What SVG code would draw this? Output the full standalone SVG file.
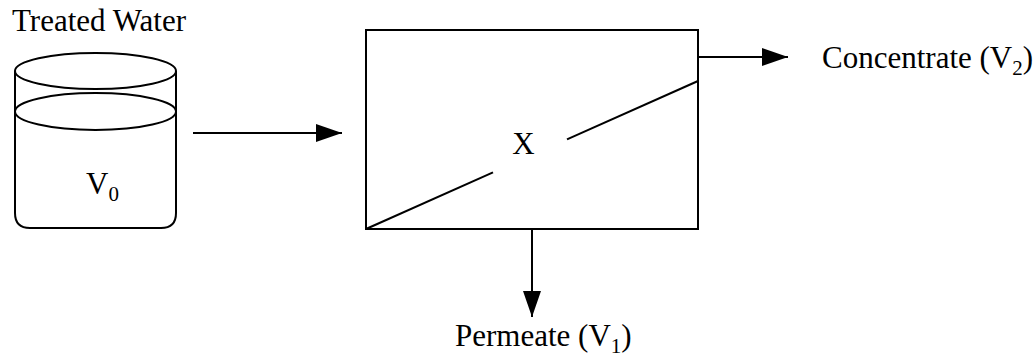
<svg xmlns="http://www.w3.org/2000/svg" width="1036" height="362" viewBox="0 0 1036 362">
<style>
.s{fill:none;stroke:#000;stroke-width:2}
.t{font-family:"Liberation Serif","Times New Roman",serif;font-size:31px;fill:#000}
.sub{font-size:21px}
</style>
<defs>
<marker id="ah" markerWidth="26" markerHeight="18" refX="26" refY="9" orient="auto" markerUnits="userSpaceOnUse">
<path d="M0,0 L26,9 L0,18 Z" fill="#000"/>
</marker>
</defs>
<rect width="1036" height="362" fill="#fff"/>
<g id="tank">
<text class="t" x="12" y="31">Treated Water</text>
<path class="s" d="M15,71 V213 Q15,228 30,228 H161 Q176,228 176,213 V71"/>
<ellipse class="s" cx="95.5" cy="71" rx="80.5" ry="18"/>
<ellipse class="s" cx="95.5" cy="111.5" rx="80.5" ry="18.5"/>
<text class="t" x="86" y="194">V<tspan class="sub" dy="7">0</tspan></text>
</g>
<g id="module">
<rect class="s" x="366" y="30" width="332" height="199"/>
<line class="s" x1="366" y1="229" x2="493" y2="172.4"/>
<line class="s" x1="567" y1="139.4" x2="698" y2="81"/>
<text class="t" x="523.5" y="154" text-anchor="middle">X</text>
</g>
<g id="concentrate">
<text class="t" x="822" y="68">Concentrate (V<tspan class="sub" dy="7">2</tspan><tspan dy="-7">)</tspan></text>
</g>
<g id="permeate">
<text class="t" x="455" y="346">Permeate (V<tspan class="sub" dy="7">1</tspan><tspan dy="-7">)</tspan></text>
</g>
<g id="connectors">
<line class="s" x1="193" y1="133" x2="342" y2="133" marker-end="url(#ah)"/>
<line class="s" x1="698" y1="57" x2="788" y2="57" marker-end="url(#ah)"/>
<line class="s" x1="532" y1="229" x2="532" y2="317" marker-end="url(#ah)"/>
</g>
</svg>
